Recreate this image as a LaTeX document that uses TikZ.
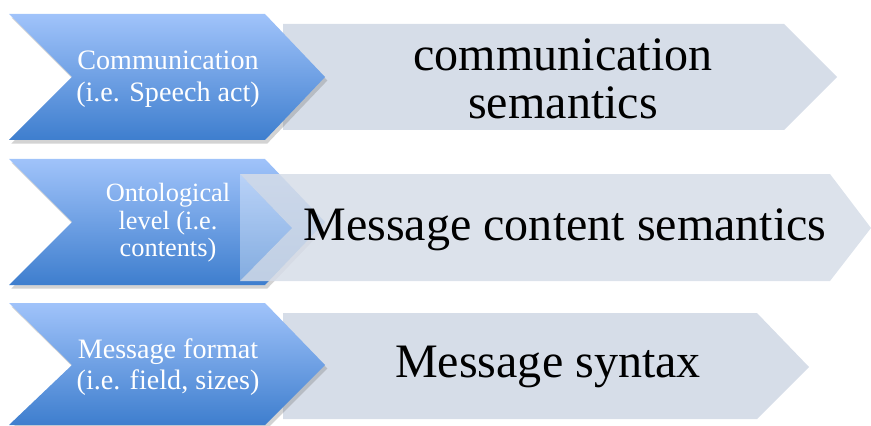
\documentclass[tikz,border=0pt]{standalone}
\usepackage{fontspec}
\setmainfont{Liberation Serif}
\usetikzlibrary{shadows}
\definecolor{bluetop}{RGB}{160,195,250}
\definecolor{bluebot}{RGB}{62,126,206}
\definecolor{graybox}{RGB}{214,221,232}
\begin{document}
\begin{tikzpicture}[x=0.03cm, y=-0.03cm,
		bluechev/.style={top color=bluetop, bottom color=bluebot, draw=none,
			drop shadow={opacity=0.35, shadow xshift=2pt, shadow yshift=-3pt}},
		graypent/.style={fill=graybox, draw=none},
		smalltxt/.style={text=white, align=center, font=\fontsize{24}{27}\selectfont},
		bigtxt/.style={text=black, align=center, font=\fontsize{41}{41}\selectfont}]
			\useasboundingbox (0,0) rectangle (871,426);
			% row 1
			\draw[graypent] (283,24)--(784,24)--(837,77)--(784,130)--(283,130)--cycle;
			\draw[bluechev] (9,14)--(265,14)--(325,77)--(265,140)--(9,140)--(72,77)--cycle;
			\node[smalltxt] (comm) at (168,79) {Communication\\(i.e. Speech act)};
			\node[bigtxt] (commsem) at (563,79) {communication\\semantics};
			% row 2
			\draw[bluechev] (9,159)--(265,159)--(325,222)--(265,285)--(9,285)--(72,222)--cycle;
			\draw[fill=white, fill opacity=0.35, draw=none] (240,174)--(292,228)--(240,281)--cycle;
			\draw[graypent, fill opacity=0.85] (240,174)--(830,174)--(871,228)--(830,281)--(240,281)--(292,228)--cycle;
			\node[smalltxt, font=\fontsize{22.5}{23.5}\selectfont] (onto) at (168,223) {Ontological\\level (i.e.\\contents)};
			\node[bigtxt] (contsem) at (565,230) {Message content semantics};
			% row 3
			\draw[graypent] (283,313)--(757,313)--(809,367)--(757,419)--(283,419)--cycle;
			\draw[bluechev] (9,303)--(265,303)--(325,365)--(265,425)--(9,425)--(72,365)--cycle;
			\node[smalltxt] (format) at (168,367) {Message format\\(i.e. field, sizes)};
			\node[bigtxt] (syntax) at (548,367) {Message syntax};
		\end{tikzpicture}
\end{document}
